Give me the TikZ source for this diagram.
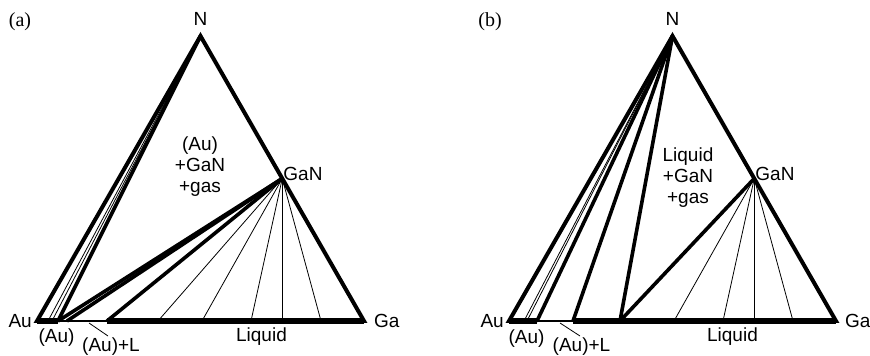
\documentclass[tikz,border=0pt]{standalone}
\usepackage{fontspec}
\setmainfont{Liberation Sans}
\newfontfamily\panelfont{Liberation Serif}
\usetikzlibrary{calc}

\begin{document}
\begin{tikzpicture}[x=1pt, y=1pt,
  % outer edges of each triangle
  edge/.style={line width=4pt, line join=miter},
  % two-phase boundaries
  boundary/.style={line width=3.6pt},
  % thick parts of the Au--Ga side
  baseedge/.style={line width=5.5pt},
  gapline/.style={line width=1.5pt},
  tieline/.style={line width=0.8pt},
  lbl/.style={inner sep=0pt, font=\fontsize{19}{21}\selectfont},
  panellbl/.style={inner sep=0pt, font=\panelfont\fontsize{20}{24}\selectfont}
]
  \useasboundingbox (0,0) rectangle (870,356);

  % ================= Panel (a) =================
  \node[panellbl] (aPanel) at (20,334) {(a)};

  \coordinate (aAu)  at (37,35);
  \coordinate (aGa)  at ($(aAu)+(327,0)$);
  \coordinate (aN)   at ($(aAu)+(163.5,285)$);
  \coordinate (aGaN) at ($(aN)!0.5!(aGa)$);
  \coordinate (aAuEnd) at ($(aAu)+(21,0)$);
  \coordinate (aLiq)   at ($(aAu)+(70,0)$);
  \coordinate (aMid)   at ($(aAu)+(30,0)$);

  % Au--Ga side: (Au), (Au)+L gap, Liquid
  \draw[gapline] (aAuEnd) -- (aLiq);
  \draw[edge] (aAuEnd) -- (aAu) -- (aN) -- (aGa) -- (aLiq);
  \draw[baseedge] (aAu) -- (aAuEnd);
  \draw[baseedge] (aLiq) -- (aGa);

  % Lines from N down to the (Au) solution
  \foreach \xx [count=\i] in {11,15} {
    \coordinate (aS\i) at ($(aAu)+(\xx,0)$);
    \draw[tieline] (aN) -- (aS\i);
  }
  \draw[boundary] (aN) -- (aAuEnd);

  % Fan from GaN
  \draw[boundary] (aGaN) -- (aAuEnd);
  \draw[boundary] (aGaN) -- (aMid);
  \draw[boundary] (aGaN) -- (aLiq);
  \foreach \xx [count=\i] in {121,165,214,245.25,284} {
    \coordinate (aT\i) at ($(aAu)+(\xx,0)$);
    \draw[tieline] (aGaN) -- (aT\i);
  }

  % Labels
  \node[lbl, anchor=base] (aNlab) at ($(aN)+(0,10)$) {N};
  \node[lbl, anchor=east] (aAulab) at ($(aAu)+(-5,0)$) {Au};
  \node[lbl, anchor=west] (aGalab) at ($(aGa)+(10,0)$) {Ga};
  \node[lbl, anchor=base west] (aGaNlab) at ($(aGaN)+(1,-2)$) {GaN};
  \node[lbl] (aSolid) at ($(aAu)+(19.5,-17)$) {(Au)};
  \node[lbl] (aSolidL) at ($(aAu)+(74,-25.5)$) {(Au)+L};
  \node[lbl] (aLiqlab) at ($(aAu)+(224.5,-16)$) {Liquid};
  \node[lbl, align=center] (aRegion) at ($(aAu)+(163,154)$) {(Au)\\+GaN\\+gas};

  % Leader to (Au)+L
  \coordinate (aLead)    at ($(aAu)+(52,-2)$);
  \coordinate (aLeadEnd) at ($(aAu)+(71,-15)$);
  \draw[tieline] (aLead) -- (aLeadEnd);

  % ================= Panel (b) =================
  \node[panellbl] (bPanel) at (490,334) {(b)};

  \coordinate (bAu)  at (509,35);
  \coordinate (bGa)  at ($(bAu)+(327,0)$);
  \coordinate (bN)   at ($(bAu)+(163.5,285)$);
  \coordinate (bGaN) at ($(bN)!0.5!(bGa)$);
  \coordinate (bAuEnd) at ($(bAu)+(28,0)$);
  \coordinate (bLiq)   at ($(bAu)+(64,0)$);
  \coordinate (bPer)   at ($(bAu)+(111,0)$);

  % Au--Ga side
  \draw[gapline] (bAuEnd) -- (bLiq);
  \draw[edge] (bAuEnd) -- (bAu) -- (bN) -- (bGa) -- (bLiq);
  \draw[baseedge] (bAu) -- (bAuEnd);
  \draw[baseedge] (bLiq) -- (bGa);

  % Lines from N
  \foreach \xx [count=\i] in {15,18} {
    \coordinate (bS\i) at ($(bAu)+(\xx,0)$);
    \draw[tieline] (bN) -- (bS\i);
  }
  \draw[boundary] (bN) -- (bAuEnd);
  \draw[boundary] (bN) -- (bLiq);
  \draw[boundary] (bN) -- (bPer);

  % Fan from GaN
  \draw[boundary] (bGaN) -- (bPer);
  \foreach \xx [count=\i] in {165,214,245.25,284} {
    \coordinate (bT\i) at ($(bAu)+(\xx,0)$);
    \draw[tieline] (bGaN) -- (bT\i);
  }

  % Labels
  \node[lbl, anchor=base] (bNlab) at ($(bN)+(0,10)$) {N};
  \node[lbl, anchor=east] (bAulab) at ($(bAu)+(-5,0)$) {Au};
  \node[lbl, anchor=west] (bGalab) at ($(bGa)+(9,0)$) {Ga};
  \node[lbl, anchor=base west] (bGaNlab) at ($(bGaN)+(1,-2)$) {GaN};
  \node[lbl] (bSolid) at ($(bAu)+(17.5,-18)$) {(Au)};
  \node[lbl] (bSolidL) at ($(bAu)+(72.5,-25.5)$) {(Au)+L};
  \node[lbl] (bLiqlab) at ($(bAu)+(223.5,-16)$) {Liquid};
  \node[lbl, align=center] (bRegion) at ($(bAu)+(179,143)$) {Liquid\\+GaN\\+gas};

  % Leader to (Au)+L
  \coordinate (bLead)    at ($(bAu)+(51,-2)$);
  \coordinate (bLeadEnd) at ($(bAu)+(71,-15)$);
  \draw[tieline] (bLead) -- (bLeadEnd);
\end{tikzpicture}
\end{document}
